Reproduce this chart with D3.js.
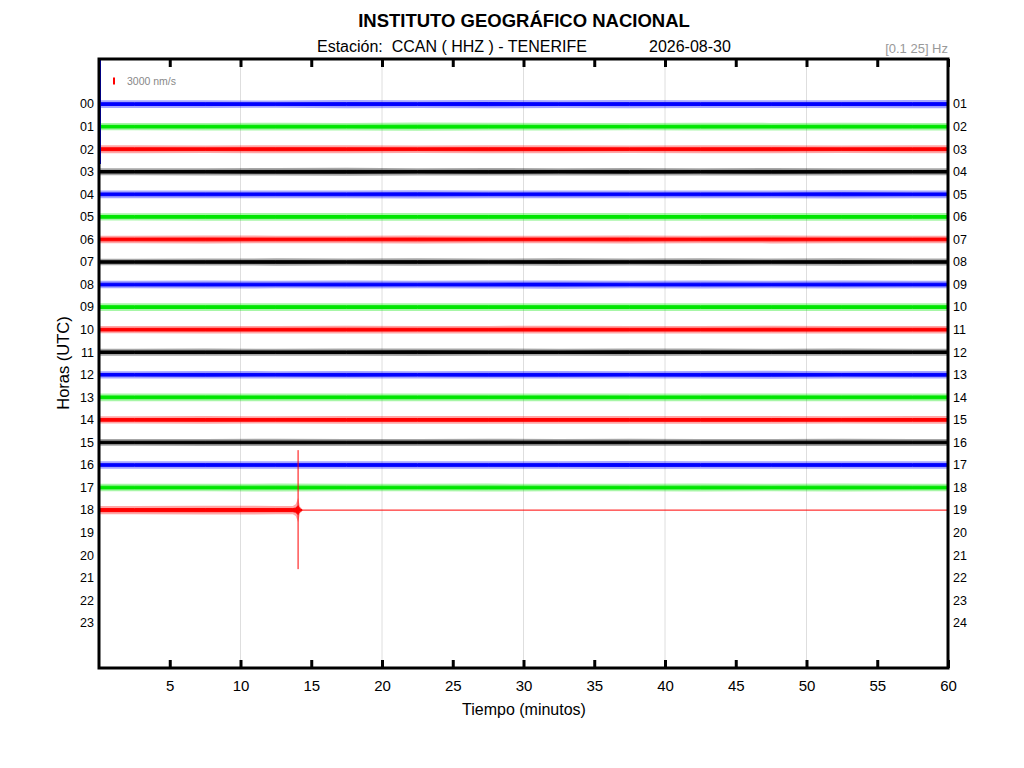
<!DOCTYPE html>
<html>
<head>
<meta charset="utf-8">
<script src="https://cdn.jsdelivr.net/npm/d3@7"></script>
<style>
  body { margin: 0; background: #fff; }
  text { font-family: "Liberation Sans", Arial, sans-serif; }
</style>
</head>
<body>
<script>
// helicorder CCAN HHZ, una fila por hora
let hourLabels = d3.range(24).map(function(h) { return d3.format("02d")(h); })
let hourLabelsRight = d3.range(1, 25).map(function(h) { return d3.format("02d")(h); })
let traceColors = ["#0000ff", "#00e600", "#ff0000", "#000000"]
let minuteTicks = [5, 10, 15, 20, 25, 30, 35, 40, 45, 50, 55, 60]
let gridMinutes = [10, 20, 30, 40, 50]

// amplitud de pico (nm/s) por tramo de 5 minutos
let noiseAmp = [
  [1300, 1350, 1250, 1400, 1350, 1450, 1300, 1400, 1350, 1300, 1350, 1400],
  [1250, 1300, 1350, 1300, 1400, 1350, 1300, 1250, 1350, 1300, 1350, 1300],
  [1350, 1300, 1400, 1350, 1300, 1400, 1350, 1300, 1350, 1400, 1300, 1350],
  [1200, 1250, 1300, 1350, 1250, 1300, 1250, 1300, 1250, 1300, 1250, 1200],
  [1300, 1350, 1300, 1350, 1400, 1300, 1350, 1300, 1350, 1300, 1400, 1300],
  [1250, 1300, 1350, 1300, 1300, 1350, 1300, 1350, 1300, 1300, 1350, 1300],
  [1300, 1350, 1300, 1300, 1350, 1300, 1300, 1350, 1300, 1350, 1300, 1300],
  [1150, 1200, 1250, 1200, 1250, 1200, 1250, 1200, 1250, 1200, 1250, 1200],
  [1300, 1350, 1300, 1350, 1300, 1350, 1400, 1300, 1350, 1300, 1350, 1300],
  [1300, 1300, 1350, 1300, 1350, 1300, 1300, 1350, 1300, 1350, 1300, 1300],
  [1250, 1300, 1300, 1350, 1300, 1300, 1350, 1300, 1300, 1350, 1300, 1300],
  [1200, 1250, 1200, 1250, 1300, 1250, 1200, 1300, 1250, 1200, 1250, 1200],
  [1250, 1300, 1250, 1300, 1250, 1300, 1300, 1250, 1300, 1350, 1250, 1300],
  [1300, 1350, 1300, 1300, 1350, 1300, 1350, 1300, 1300, 1350, 1300, 1350],
  [1250, 1300, 1250, 1300, 1300, 1350, 1300, 1300, 1350, 1300, 1250, 1300],
  [1150, 1200, 1250, 1200, 1200, 1250, 1200, 1250, 1200, 1200, 1250, 1200],
  [1250, 1300, 1250, 1300, 1300, 1250, 1300, 1350, 1300, 1250, 1300, 1300],
  [1300, 1300, 1350, 1300, 1300, 1350, 1300, 1300, 1350, 1300, 1350, 1300],
  [1450, 1500, 1450]
]
let lastMinute = 14.07          // fin de datos en la hora 18
let eventMinute = 14.07
let eventUp = 25700             // nm/s
let eventDown = -25300
let codaMinutes = [13.7, 13.9, 14.0, 14.07, 14.2, 14.35]
let codaAmp = [1500, 2000, 3200, 4200, 1200, 400]
let startSpikeUp = 19700        // arranque de la traza 00
let startSpikeDown = -25700
let scaleBarValue = 3000

let width = 1024
let height = 768
let margin = {left: 99, right: 76, top: 59, bottom: 100}

let svg = d3.select("body")
    .append("svg")
    .attr("width", width)
    .attr("height", height)

let x = d3.scaleLinear()
    .domain([0, 60])
    .range([margin.left, width - margin.right])

let row = d3.scaleLinear()
    .domain([-2, 25])
    .range([margin.top, height - margin.bottom])

// px por nm/s: 3000 nm/s ocupa ~7 px
let amp = d3.scaleLinear()
    .domain([0, scaleBarValue])
    .range([0, 7])

svg.append("defs").append("clipPath")
    .attr("id", "plotclip")
    .append("rect")
    .attr("x", x(0))
    .attr("y", row(-2))
    .attr("width", x(60) - x(0))
    .attr("height", row(25) - row(-2))

// rejilla
svg.append("g")
    .selectAll("line")
    .data(gridMinutes)
    .enter()
    .append("line")
    .attr("x1", function(d) { return x(d); })
    .attr("x2", function(d) { return x(d); })
    .attr("y1", row(-2))
    .attr("y2", row(25))
    .attr("stroke", "#dedede")
    .attr("stroke-width", 1)

let traces = svg.append("g").attr("clip-path", "url(#plotclip)")

// bandas de ruido: envolvente de pico (semitransparente) y nucleo
noiseAmp.forEach(function(segs, h) {
    let end = h == 18 ? codaMinutes[0] : 60
    let pts = segs.map(function(a, i) { return {m: i * 5 + 2.5, a: a}; })
    pts.unshift({m: 0, a: segs[0]})
    pts = pts.filter(function(p) { return p.m <= end; })
    pts.push({m: end, a: segs[segs.length - 1]})
    if (h == 18) {
        codaMinutes.forEach(function(m, i) { if (i > 0) pts.push({m: m, a: codaAmp[i]}); })
    }
    let col = traceColors[h % 4]
    let outer = d3.area()
        .x(function(p) { return x(p.m); })
        .y0(function(p) { return row(h) + amp(p.a) * 1.25; })
        .y1(function(p) { return row(h) - amp(p.a) * 1.25; })
    let core = d3.area()
        .x(function(p) { return x(p.m); })
        .y0(function(p) { return row(h) + amp(p.a) * 0.45; })
        .y1(function(p) { return row(h) - amp(p.a) * 0.45; })
    traces.append("path")
        .attr("d", outer(pts))
        .attr("fill", col)
        .attr("fill-opacity", 0.35)
    traces.append("path")
        .attr("d", core(pts))
        .attr("fill", col)
        .attr("stroke", col)
        .attr("stroke-width", 1)
})

// arranque de la traza 00
traces.append("line")
    .attr("x1", x(0) + 1).attr("x2", x(0) + 1)
    .attr("y1", row(0) - amp(startSpikeUp))
    .attr("y2", row(0) - amp(startSpikeDown))
    .attr("stroke", traceColors[0])
    .attr("stroke-width", 2)

// evento de la hora 18
traces.append("line")
    .attr("x1", x(eventMinute)).attr("x2", x(eventMinute))
    .attr("y1", row(18) - amp(eventUp))
    .attr("y2", row(18) - amp(eventDown))
    .attr("stroke", traceColors[2])
    .attr("stroke-width", 1)

// linea plana tras el fin de datos
traces.append("line")
    .attr("x1", x(lastMinute)).attr("x2", x(60))
    .attr("y1", row(18)).attr("y2", row(18))
    .attr("stroke", traceColors[2])
    .attr("stroke-width", 1)

// marco
svg.append("rect")
    .attr("x", x(0))
    .attr("y", row(-2))
    .attr("width", x(60) - x(0))
    .attr("height", row(25) - row(-2))
    .attr("fill", "none")
    .attr("stroke", "#000")
    .attr("stroke-width", 3)

// eje x abajo
let xAxis = d3.axisBottom(x)
    .tickValues(minuteTicks)
    .tickSizeInner(-8)
    .tickSizeOuter(0)
    .tickPadding(12)
let gx = svg.append("g")
    .attr("transform", "translate(0," + row(25) + ")")
    .call(xAxis)
gx.select(".domain").remove()
gx.selectAll("line").attr("stroke", "#000").attr("stroke-width", 3)
gx.selectAll("text").attr("font-size", 15).attr("fill", "#000")
    .style("font-family", "Liberation Sans, Arial, sans-serif")

// ticks arriba
let gt = svg.append("g")
    .attr("transform", "translate(0," + row(-2) + ")")
    .call(d3.axisTop(x).tickValues(minuteTicks).tickSizeInner(-8).tickSizeOuter(0).tickFormat(""))
gt.select(".domain").remove()
gt.selectAll("line").attr("stroke", "#000").attr("stroke-width", 3)

// horas
svg.append("g")
    .selectAll("text")
    .data(hourLabels)
    .enter()
    .append("text")
    .attr("x", x(0) - 5)
    .attr("y", function(d, i) { return row(i); })
    .attr("dy", "0.35em")
    .attr("text-anchor", "end")
    .attr("font-size", 12.5)
    .text(function(d) { return d; })

svg.append("g")
    .selectAll("text")
    .data(hourLabelsRight)
    .enter()
    .append("text")
    .attr("x", x(60) + 5)
    .attr("y", function(d, i) { return row(i); })
    .attr("dy", "0.35em")
    .attr("font-size", 12.5)
    .text(function(d) { return d; })

// barra de escala
svg.append("line")
    .attr("x1", 114).attr("x2", 114)
    .attr("y1", 81 - amp(scaleBarValue) / 2)
    .attr("y2", 81 + amp(scaleBarValue) / 2)
    .attr("stroke", "#ff0000")
    .attr("stroke-width", 2)
svg.append("text")
    .attr("x", 127).attr("y", 85)
    .attr("font-size", 10.5)
    .attr("fill", "#888")
    .text(scaleBarValue + " nm/s")

// textos
svg.append("text")
    .attr("x", 524).attr("y", 27)
    .attr("text-anchor", "middle")
    .attr("font-size", 18.5)
    .attr("font-weight", "bold")
    .text("INSTITUTO GEOGRÁFICO NACIONAL")

svg.append("text")
    .attr("x", 317).attr("y", 52)
    .attr("font-size", 16)
    .attr("xml:space", "preserve")
    .style("white-space", "pre")
    .text("Estación:  CCAN ( HHZ ) - TENERIFE")

svg.append("text")
    .attr("x", 649).attr("y", 52)
    .attr("font-size", 16)
    .text("2026-08-30")

svg.append("text")
    .attr("x", 948).attr("y", 53)
    .attr("text-anchor", "end")
    .attr("font-size", 13)
    .attr("fill", "#999")
    .text("[0.1 25] Hz")

svg.append("text")
    .attr("x", 524).attr("y", 715)
    .attr("text-anchor", "middle")
    .attr("font-size", 16)
    .text("Tiempo (minutos)")

svg.append("text")
    .attr("transform", "translate(69,363) rotate(-90)")
    .attr("text-anchor", "middle")
    .attr("font-size", 16.5)
    .text("Horas (UTC)")
</script>
</body>
</html>
